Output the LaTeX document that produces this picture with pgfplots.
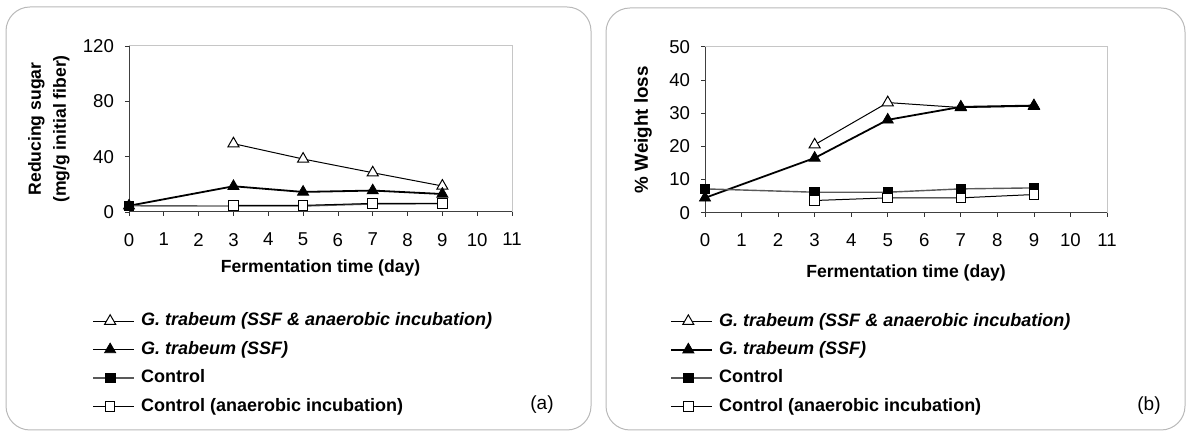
\documentclass[border=0pt]{standalone}
\usepackage{fontspec}
\setmainfont{Liberation Sans}
\usepackage{pgfplots}
\pgfplotsset{compat=1.18}

\pgfplotsset{
  panel/.style={
    scale only axis,
    height=83pt,
    xmin=0, xmax=11,
    xtick={0,1,...,11},
    tick pos=left,
    tick align=outside,
    major tick length=2pt,
    tick style={black!80, line width=0.4pt},
    axis line style={gray!45, line width=0.5pt},
    /pgf/number format/assume math mode=true,
    ticklabel style={font=\fontsize{9.3}{10}\selectfont},
    xticklabel style={yshift=-5pt},
    yticklabel style={xshift=-2pt},
    label style={font=\bfseries\fontsize{8.8}{12.5}\selectfont},
    legend cell align=left,
    legend style={draw=none, fill=none, inner sep=0pt,
      font=\bfseries\fontsize{9}{10}\selectfont,
      row sep=3.4pt,
      nodes={inner sep=1pt, text height=6.8pt, text depth=2pt}},
    legend image code/.code={
      \draw[mark repeat=2, mark phase=2] plot coordinates {(0pt,0pt) (8.5pt,0pt) (20.5pt,0pt)};
      \path (22.5pt,0pt);
    },
  },
  opentri/.style={black, line width=0.5pt, mark=triangle*, mark size=3.2pt,
    mark options={fill=white, draw=black, line width=0.5pt}},
  filltri/.style={black, line width=0.9pt, mark=triangle*, mark size=3.2pt,
    mark options={fill=black, draw=black, line width=0.4pt}},
  fillsq/.style={black!65, line width=0.7pt, mark=square*, mark size=2.4pt,
    mark options={fill=black, draw=black, line width=0.4pt}},
  opensq/.style={black, line width=0.5pt, mark=square*, mark size=2.4pt,
    mark options={fill=white, draw=black, line width=0.5pt}},
}

\begin{document}
\begin{tikzpicture}[x=1pt,y=1pt]
\useasboundingbox (0,0) rectangle (594,216);
\draw[gray!55, line width=0.5pt, rounded corners=12pt] (3,1) rectangle (295.5,212.5);
\draw[gray!55, line width=0.5pt, rounded corners=12pt] (303,1) rectangle (592.5,212);

% ---------------- (a) ----------------
\begin{axis}[panel,
  at={(64.5pt,110pt)}, anchor=south west,
  width=191.5pt,
  ymin=0, ymax=120, ytick={0,40,80,120},
  xlabel={Fermentation time (day)},
  xlabel style={at={(axis description cs:0.5,-0.337)}, anchor=center},
  ylabel={Reducing sugar\\(mg/g initial fiber)},
  ylabel style={align=center, at={(axis description cs:-0.209,0.5)}, anchor=center},
  legend style={at={(axis description cs:-0.097,-0.59)}, anchor=north west},
]
\addplot[opentri] coordinates {(3,49.4) (5,38.3) (7,28.4) (9,18.8)};
\addlegendentry{\itshape G. trabeum (SSF \& anaerobic incubation)}
\addplot[filltri] coordinates {(0,4.5) (3,18.6) (5,14.5) (7,15.5) (9,13)};
\addlegendentry{\itshape G. trabeum (SSF)}
\addplot[fillsq] coordinates {(0,4.5) (3,4.3) (5,4.3) (7,5.8) (9,6)};
\addlegendentry{Control}
\addplot[opensq] coordinates {(3,4.8) (5,4.8) (7,6.2) (9,6.2)};
\addlegendentry{Control (anaerobic incubation)}
\draw[black!75, line width=0.6pt] (rel axis cs:0,1) -- (rel axis cs:0,0) -- (rel axis cs:1,0);
\end{axis}
\node[font=\fontsize{9.5}{11}\selectfont] at (271pt,13.5pt) {(a)};

% ---------------- (b) ----------------
\begin{axis}[panel,
  at={(352.5pt,109.6pt)}, anchor=south west,
  width=201pt,
  ymin=0, ymax=50, ytick={0,10,...,50},
  xlabel={Fermentation time (day)},
  xlabel style={at={(axis description cs:0.5,-0.361)}, anchor=center},
  ylabel={\% Weight loss},
  ylabel style={font=\bfseries\fontsize{9.4}{11}\selectfont, at={(axis description cs:-0.154,0.5)}, anchor=center},
  legend style={at={(axis description cs:-0.087,-0.586)}, anchor=north west},
]
\addplot[opentri] coordinates {(3,20.5) (5,33.2) (7,31.7) (9,32.1)};
\addlegendentry{\itshape G. trabeum (SSF \& anaerobic incubation)}
\addplot[filltri] coordinates {(0,4.5) (3,16.5) (5,28) (7,31.9) (9,32.3)};
\addlegendentry{\itshape G. trabeum (SSF)}
\addplot[fillsq] coordinates {(0,7.2) (3,6.2) (5,6.2) (7,7.2) (9,7.5)};
\addlegendentry{Control}
\addplot[opensq] coordinates {(3,3.7) (5,4.5) (7,4.5) (9,5.5)};
\addlegendentry{Control (anaerobic incubation)}
\draw[black!75, line width=0.6pt] (rel axis cs:0,1) -- (rel axis cs:0,0) -- (rel axis cs:1,0);
\end{axis}
\node[font=\fontsize{9.5}{11}\selectfont] at (574.5pt,13pt) {(b)};
\end{tikzpicture}
\end{document}
